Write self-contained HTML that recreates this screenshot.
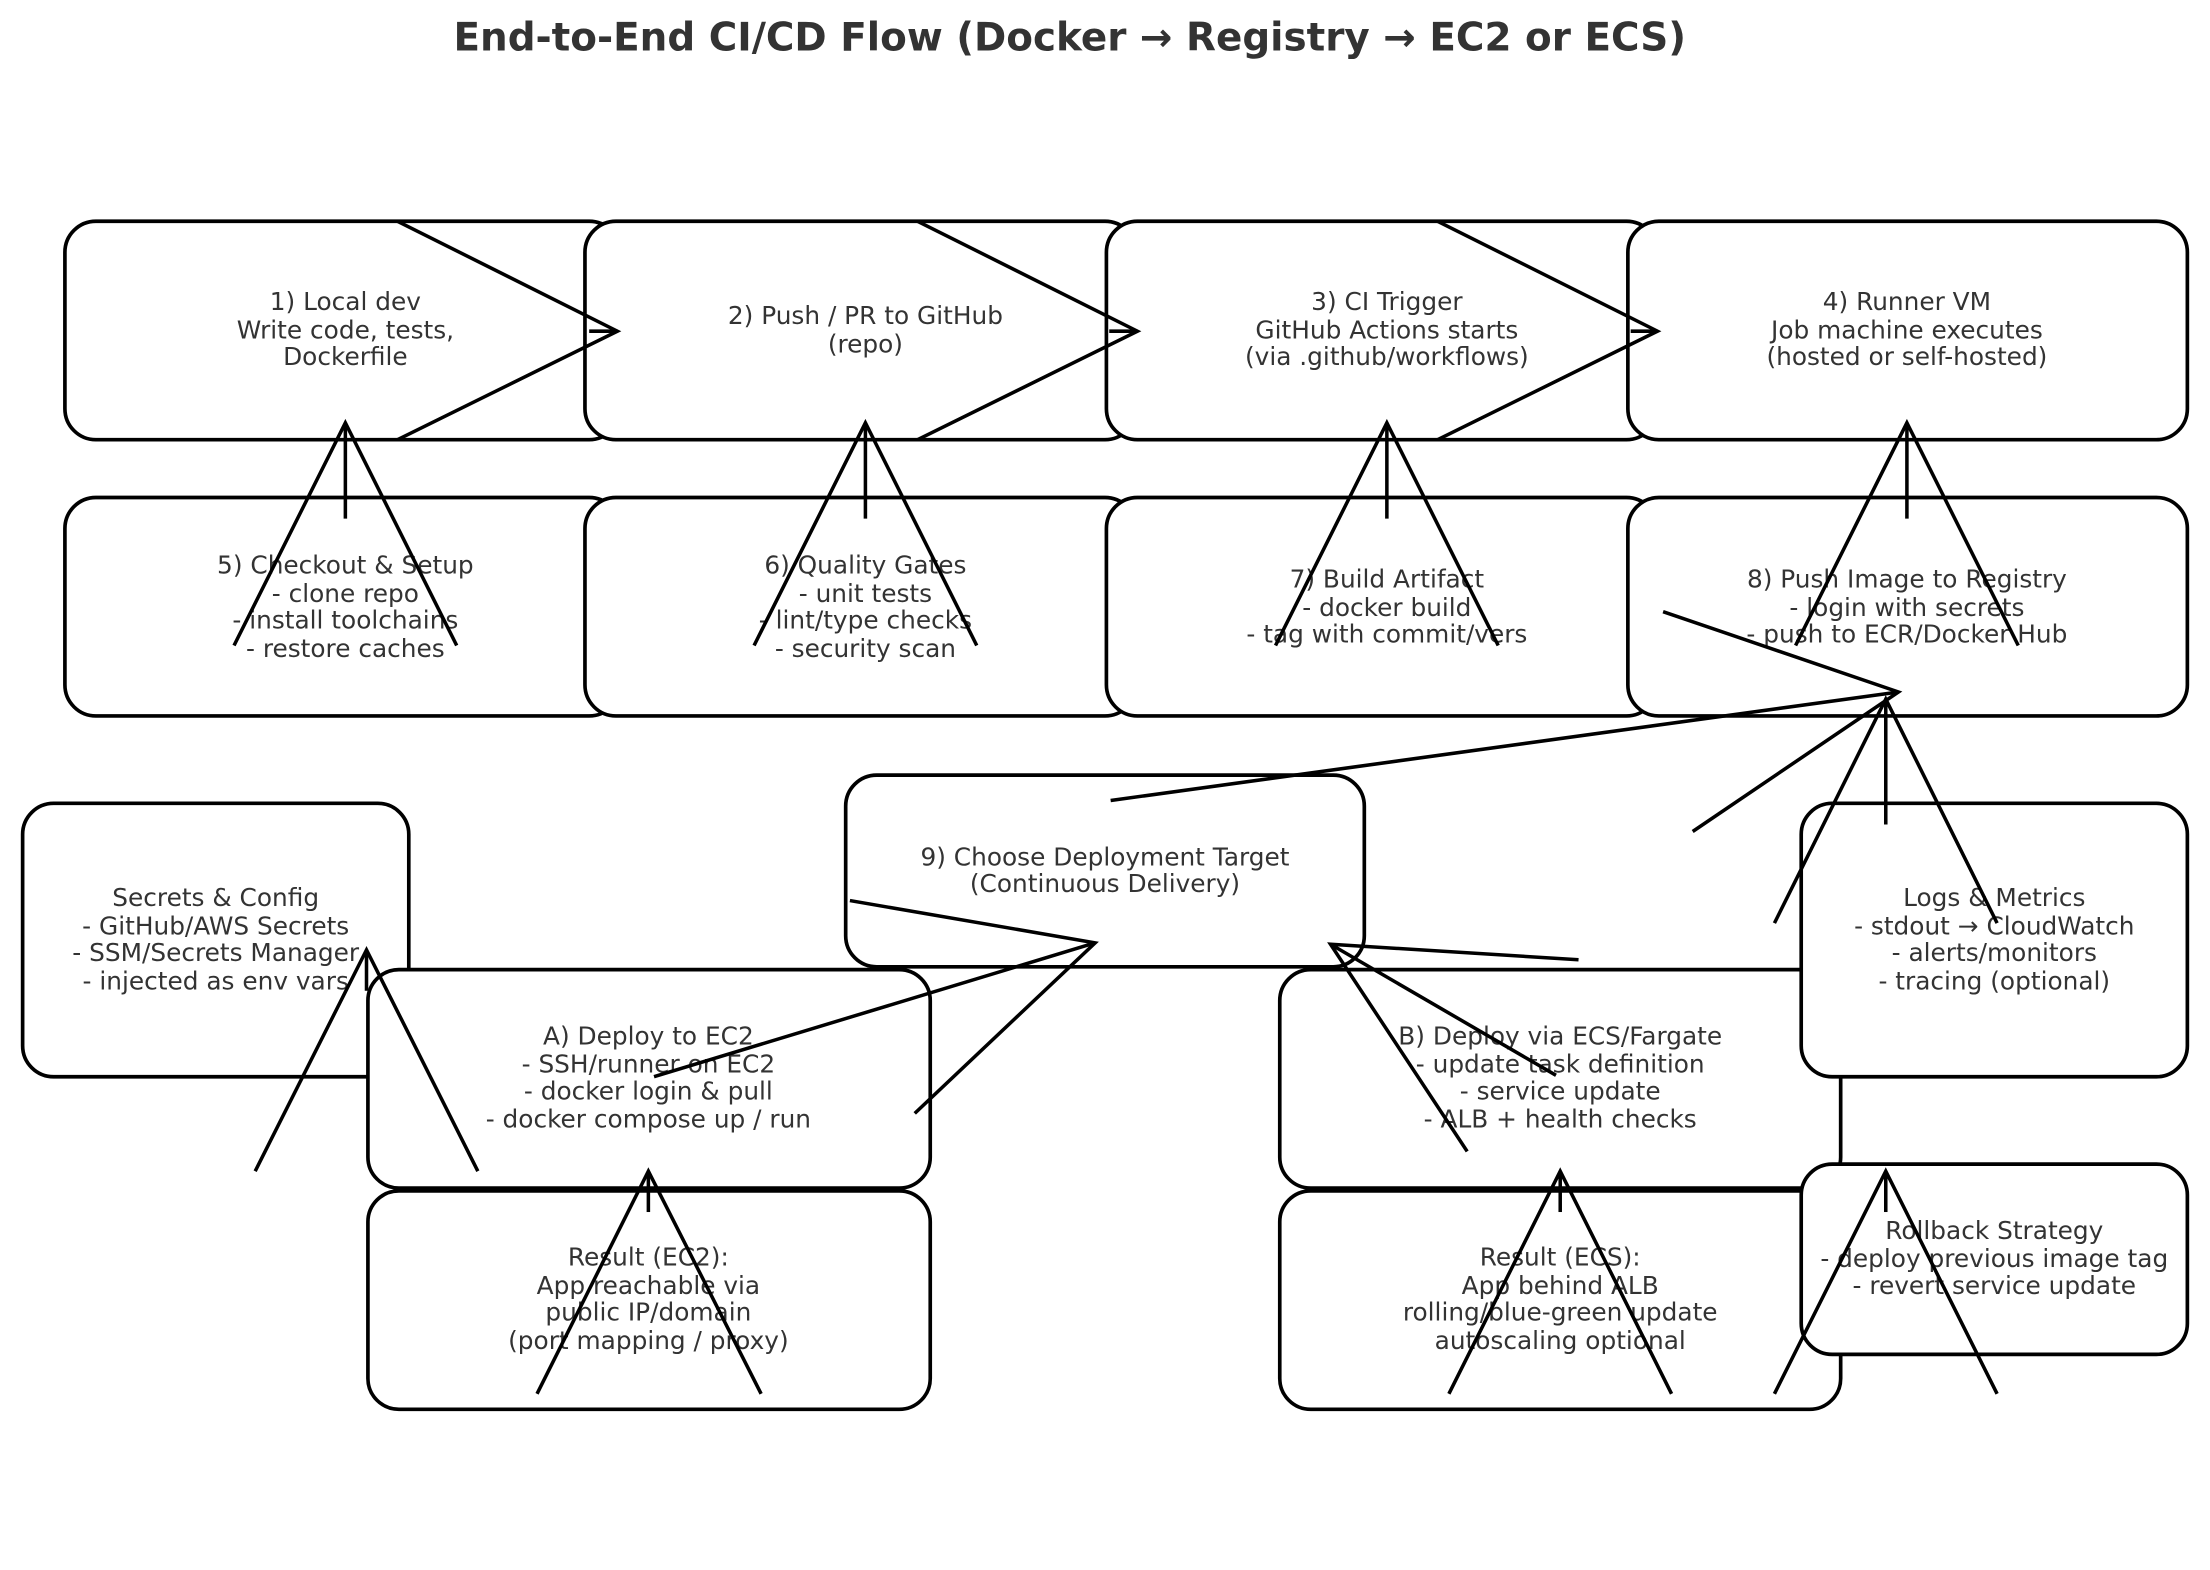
<!DOCTYPE html>
<html><head><meta charset="utf-8"><style>
html,body{margin:0;padding:0;background:#fff;}
svg{display:block;}
text{font-family:"DejaVu Sans","Liberation Sans",sans-serif;fill:#333;}
</style></head><body>
<svg width="2210" height="1570" viewBox="0 0 1568 1114" xmlns="http://www.w3.org/2000/svg">
<rect width="1568" height="1114" fill="#fff"/>
<text x="759" y="27" font-size="27.6" font-weight="bold" text-anchor="middle" dominant-baseline="central">End-to-End CI/CD Flow (Docker → Registry → EC2 or ECS)</text>
<g fill="#fff" stroke="#000" stroke-width="2.6">
<rect x="46" y="157" width="394" height="155" rx="22"/>
<rect x="415" y="157" width="391" height="155" rx="22"/>
<rect x="785" y="157" width="391" height="155" rx="22"/>
<rect x="1155" y="157" width="397" height="155" rx="22"/>
<rect x="46" y="353" width="394" height="155" rx="22"/>
<rect x="415" y="353" width="391" height="155" rx="22"/>
<rect x="785" y="353" width="391" height="155" rx="22"/>
<rect x="1155" y="353" width="397" height="155" rx="22"/>
<rect x="16" y="570" width="274" height="194" rx="22"/>
<rect x="600" y="550" width="368" height="136" rx="22"/>
<rect x="261" y="688" width="399" height="155" rx="22"/>
<rect x="908" y="688" width="398" height="155" rx="22"/>
<rect x="1278" y="570" width="274" height="194" rx="22"/>
<rect x="261" y="845" width="399" height="155" rx="22"/>
<rect x="908" y="845" width="398" height="155" rx="22"/>
<rect x="1278" y="826" width="274" height="135" rx="22"/>
</g>
<g font-size="17.6" text-anchor="middle" dominant-baseline="central">
<text x="245" y="214">1) Local dev</text><text x="245" y="234">Write code, tests,</text><text x="245" y="253">Dockerfile</text>
<text x="614" y="224">2) Push / PR to GitHub</text><text x="614" y="244">(repo)</text>
<text x="984" y="214">3) CI Trigger</text><text x="984" y="234">GitHub Actions starts</text><text x="984" y="253">(via .github/workflows)</text>
<text x="1353" y="214">4) Runner VM</text><text x="1353" y="234">Job machine executes</text><text x="1353" y="253">(hosted or self-hosted)</text>
<text x="245" y="401">5) Checkout &amp; Setup</text><text x="245" y="421">- clone repo</text><text x="245" y="440">- install toolchains</text><text x="245" y="460">- restore caches</text>
<text x="614" y="401">6) Quality Gates</text><text x="614" y="421">- unit tests</text><text x="614" y="440">- lint/type checks</text><text x="614" y="460">- security scan</text>
<text x="984" y="411">7) Build Artifact</text><text x="984" y="431">- docker build</text><text x="984" y="450">- tag with commit/vers</text>
<text x="1353" y="411">8) Push Image to Registry</text><text x="1353" y="431">- login with secrets</text><text x="1353" y="450">- push to ECR/Docker Hub</text>
<text x="153" y="637">Secrets &amp; Config</text><text x="153" y="657">- GitHub/AWS Secrets</text><text x="153" y="676">- SSM/Secrets Manager</text><text x="153" y="696">- injected as env vars</text>
<text x="784" y="608">9) Choose Deployment Target</text><text x="784" y="627">(Continuous Delivery)</text>
<text x="1415" y="637">Logs &amp; Metrics</text><text x="1415" y="657">- stdout → CloudWatch</text><text x="1415" y="676">- alerts/monitors</text><text x="1415" y="696">- tracing (optional)</text>
<text x="460" y="735">A) Deploy to EC2</text><text x="460" y="755">- SSH/runner on EC2</text><text x="460" y="774">- docker login &amp; pull</text><text x="460" y="794">- docker compose up / run</text>
<text x="1107" y="735">B) Deploy via ECS/Fargate</text><text x="1107" y="755">- update task definition</text><text x="1107" y="774">- service update</text><text x="1107" y="794">- ALB + health checks</text>
<text x="460" y="892">Result (EC2):</text><text x="460" y="912">App reachable via</text><text x="460" y="931">public IP/domain</text><text x="460" y="951">(port mapping / proxy)</text>
<text x="1107" y="892">Result (ECS):</text><text x="1107" y="912">App behind ALB</text><text x="1107" y="931">rolling/blue-green update</text><text x="1107" y="951">autoscaling optional</text>
<text x="1415" y="873">Rollback Strategy</text><text x="1415" y="893">- deploy previous image tag</text><text x="1415" y="912">- revert service update</text>
</g>
<g fill="none" stroke="#000" stroke-width="2.5">
<polyline points="282,157 438,235 282,312"/><line x1="418" y1="235" x2="438" y2="235"/>
<polyline points="651,157 807,235 651,312"/><line x1="787" y1="235" x2="807" y2="235"/>
<polyline points="1020,157 1176,235 1020,312"/><line x1="1157" y1="235" x2="1176" y2="235"/>
<polyline points="166,458 245,300 324,458"/><line x1="245" y1="300" x2="245" y2="368"/>
<polyline points="535,458 614,300 693,458"/><line x1="614" y1="300" x2="614" y2="368"/>
<polyline points="905,458 984,300 1063,458"/><line x1="984" y1="300" x2="984" y2="368"/>
<polyline points="1274,458 1353,300 1432,458"/><line x1="1353" y1="300" x2="1353" y2="368"/>
<polyline points="1180,434 1347,491 1201,590"/><line x1="788" y1="568" x2="1347" y2="491"/>
<polyline points="1259,655 1338,496 1417,655"/><line x1="1338" y1="496" x2="1338" y2="585"/>
<polyline points="603,639 777,669 649,790"/><line x1="464" y1="764" x2="777" y2="669"/>
<polyline points="1120,681 944,670 1041,817"/><line x1="944" y1="670" x2="1104" y2="763"/>
<polyline points="181,831 260,674 339,831"/><line x1="260" y1="674" x2="260" y2="703"/>
<polyline points="381,989 460,831 540,989"/><line x1="460" y1="831" x2="460" y2="860"/>
<polyline points="1028,989 1107,831 1186,989"/><line x1="1107" y1="831" x2="1107" y2="860"/>
<polyline points="1259,989 1338,831 1417,989"/><line x1="1338" y1="831" x2="1338" y2="860"/>
</g>
</svg>
</body></html>
